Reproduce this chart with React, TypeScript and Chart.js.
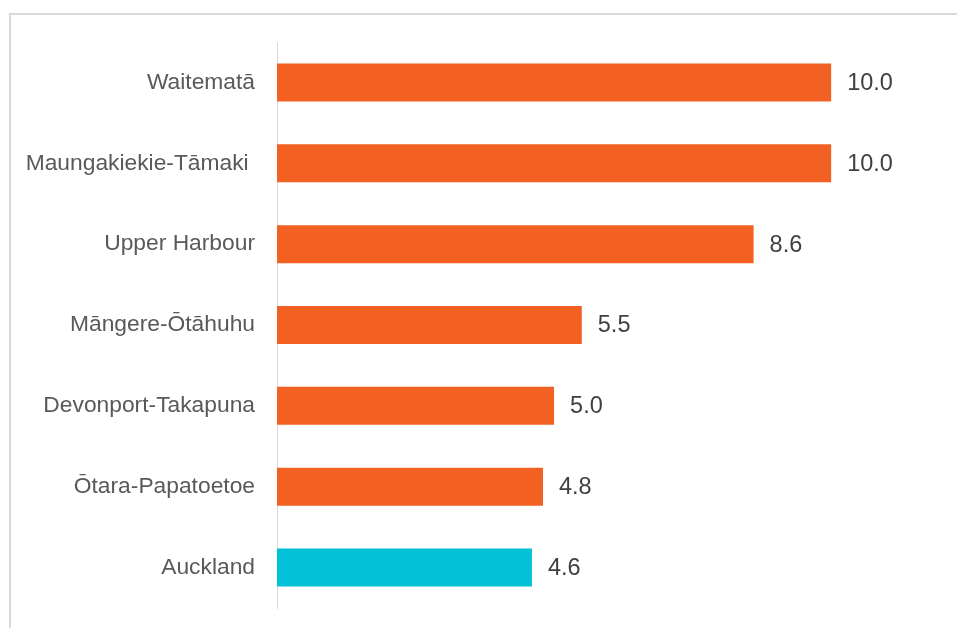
import React, { useEffect, useRef } from "react";
import { Chart, registerables } from "chart.js";

Chart.register(...registerables);

const categories = [
  "Waitematā",
  "Maungakiekie-Tāmaki ",
  "Upper Harbour",
  "Māngere-Ōtāhuhu",
  "Devonport-Takapuna",
  "Ōtara-Papatoetoe",
  "Auckland",
];
const values = [10.0, 10.0, 8.6, 5.5, 5.0, 4.8, 4.6];
const barColors = ["#F26122", "#F26122", "#F26122", "#F26122", "#F26122", "#F26122", "#00C1D5"];
const xMax = 12;

const valueLabelPlugin = {
  id: "valueLabels",
  afterDatasetsDraw(chart: any) {
    const ctx = chart.ctx;
    const meta = chart.getDatasetMeta(0);
    ctx.save();
    ctx.font = "23.5px 'Liberation Sans', Arial, sans-serif";
    ctx.fillStyle = "#404040";
    ctx.textAlign = "left";
    ctx.textBaseline = "middle";
    meta.data.forEach((bar: any, i: number) => {
      const v = chart.data.datasets[0].data[i];
      ctx.fillText(Number(v).toFixed(1), bar.x + 16, bar.y + 1);
    });
    ctx.restore();
  },
};

export default function App() {
  const ref = useRef<HTMLCanvasElement>(null);
  useEffect(() => {
    if (!ref.current) return;
    const chart = new Chart(ref.current, {
      type: "bar",
      data: {
        labels: categories,
        datasets: [
          {
            data: values,
            backgroundColor: barColors,
            barPercentage: 0.47,
            categoryPercentage: 1,
          },
        ],
      },
      options: {
        indexAxis: "y",
        animation: false,
        responsive: false,
        maintainAspectRatio: false,
        layout: { padding: { top: 42, bottom: 20, left: 0, right: 15 } },
        plugins: {
          legend: { display: false },
          tooltip: { enabled: false },
        },
        scales: {
          x: { display: false, min: 0, max: xMax },
          y: {
            afterFit: (scale: any) => {
              scale.width = 277;
              scale.paddingTop = 0;
              scale.paddingBottom = 0;
            },
            grid: { display: false, drawTicks: false },
            border: { display: true, color: "#d9d9d9", width: 1 },
            ticks: {
              padding: 22,
              color: "#595959",
              font: { family: "'Liberation Sans', Arial, sans-serif", size: 22.8 },
            },
          },
        },
      },
      plugins: [valueLabelPlugin],
    });
    return () => chart.destroy();
  }, []);

  return (
    <div
      style={{
        position: "fixed",
        left: 0,
        top: 0,
        width: 957,
        height: 628,
        background: "#ffffff",
        overflow: "hidden",
      }}
    >
      <div
        style={{
          position: "absolute",
          left: 9,
          top: 13,
          width: 980,
          height: 640,
          borderTop: "2px solid #d9d9d9",
          borderLeft: "2px solid #d9d9d9",
          boxSizing: "border-box",
        }}
      />
      <canvas
        ref={ref}
        width={957}
        height={628}
        style={{ position: "absolute", left: 0, top: 0, width: 957, height: 628 }}
      />
    </div>
  );
}
